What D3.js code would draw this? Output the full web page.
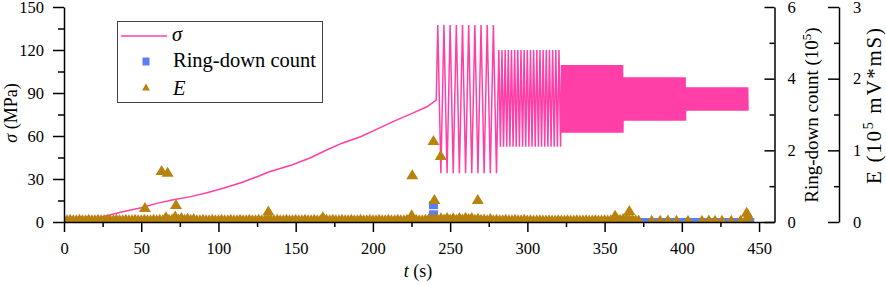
<!DOCTYPE html>
<html>
<head>
<meta charset="utf-8">
<script src="https://cdn.jsdelivr.net/npm/d3@7"></script>
<style>
body{margin:0;background:#fff;}
svg{display:block;font-family:"Liberation Serif","Times New Roman",serif;}
</style>
</head>
<body>
<script>
// stress ramp before cyclic loading (t in s, sigma in MPa)
var sigmaT=[0,10,20,25,38,50,60,70,82,92,103,115,125,133,148,160,170,180,192,203,213,225,235,241];
var sigmaV=[0,1,2.5,3.7,7.2,10,13,15.3,17.7,20.3,23.5,27.6,31.6,35,40,45,50.2,55,59.5,65,70,75.6,80.4,85];

// cyclic loading stages
var stageStart=[241,281,322,362,402.5];
var stageEnd=[281,322,362,402.5,443];
var stageMax=[137.5,120,109.5,101,94];
var stageMin=[34,52.5,62.3,70.7,77.7];
var stageCycles=[10,20,80,80,80];

// E (10^5 mV*mS), background samples every 2 s from 0 to 372 s
var eBase=[
.04,.04,.045,.04,.04,.045,.04,.04,.045,.04,
.04,.045,.04,.04,.045,.04,.04,.045,.04,.04,
.045,.04,.04,.045,.04,.04,.045,.04,.04,.045,
.04,.045,.04,.08,.045,.05,.09,.05,.07,.045,
.06,.045,.055,.04,.04,.045,.04,.04,.045,.04,
.04,.045,.04,.04,.045,.04,.04,.045,.04,.04,
.045,.04,.04,.045,.04,.04,.055,.045,.04,.045,
.04,.04,.045,.04,.04,.045,.04,.04,.045,.04,
.04,.045,.04,.04,.06,.045,.04,.045,.04,.04,
.045,.04,.04,.045,.04,.04,.045,.04,.04,.045,
.04,.04,.045,.04,.04,.045,.04,.04,.045,.04,
.04,.045,.04,.04,.045,.04,.04,.045,.05,.045,
.06,.045,.065,.05,.07,.05,.065,.045,.07,.05,
.075,.055,.07,.045,.06,.045,.05,.04,.055,.04,
.045,.04,.04,.045,.04,.04,.045,.04,.04,.045,
.035,.04,.035,.035,.04,.035,.035,.04,.035,.035,
.04,.035,.035,.04,.035,.035,.04,.035,.035,.04,
.035,.035,.04,.035,.035,.04,.035,.04,.05,.06,
.045,.055,.06,.05,.045,.04,.035];
// sparse E points at the end of the test
var eLateT=[380.5,386,391,396.5,404,413,417.5,421.5,426,432,438,442];
var eLateV=[.03,.03,.035,.03,.03,.03,.035,.03,.03,.03,.03,.035];
// larger E events
var eEventT=[52.4,63.2,67.1,72.5,132.3,167.6,225.1,225.5,239.2,239.8,243.9,267.9,356.8,366,442,443];
var eEventV=[.21,.725,.70,.25,.16,.08,.107,.665,1.145,.32,.935,.32,.10,.167,.144,.1];

// ring-down count (10^5), background samples every 4 s from 0 to 444 s
var ringBase=[
0,0,0,0,0,0,0,0,0,0,0,0,0,0,0,0,0,0,0,0,
0,0,0,0,0,0,0,0,0,0,0,0,0,0,0,0,0,0,0,0,
0,0,0,0,0,0,0,0,0,0,0,0,0,0,0,0,0,0,0,0,
0,0,0,0,0,0,0,0,0,0,0,0,0,0,0,0,0,0,0,0,
0,0,0,0,0,0,0,0,0,0,0,0,0,0,0,0,0,0,0,0,
0,0,0,0,0,0,0,0,0,0,0,0];
var ringEventT=[239.2,239.2];
var ringEventV=[.47,.215];

var xTicks=[0,50,100,150,200,250,300,350,400,450];
var sigmaTicks=[0,30,60,90,120,150];
var ringTicks=[0,2,4,6];
var eTicks=[0,1,2,3];

var pink='#ff3fa7', blue='#5b7ff3', brown='#b8820e';
var font='"Liberation Serif","Times New Roman",serif';

var width=886, height=284;
var svg=d3.select('body').append('svg')
  .attr('width',width).attr('height',height);

var x=d3.scaleLinear().domain([0,460]).range([64,774.5]);
var yS=d3.scaleLinear().domain([0,150]).range([222,7]);
var yR=d3.scaleLinear().domain([0,6]).range([222,7]);
var yE=d3.scaleLinear().domain([0,3]).range([222,7]);

svg.append('clipPath').attr('id','plot')
  .append('rect').attr('x',64).attr('y',7).attr('width',710.5).attr('height',215);

// sigma: ramp followed by the cyclic stages
var sigmaPts=sigmaT.map(function(t,i){return [t,sigmaV[i]];});
stageStart.forEach(function(t0,s){
  var p=(stageEnd[s]-t0)/stageCycles[s];
  for(var k=0;k<stageCycles[s];k++){
    sigmaPts.push([t0+(k+0.25)*p,stageMax[s]]);
    sigmaPts.push([t0+(k+0.75)*p,stageMin[s]]);
  }
});
var line=d3.line().x(function(d){return x(d[0]);}).y(function(d){return yS(d[1]);});
svg.append('path').datum(sigmaPts)
  .attr('clip-path','url(#plot)')
  .attr('d',line).attr('fill','none')
  .attr('stroke',pink).attr('stroke-width',1.5);

// ring-down count squares
var ringPts=ringBase.map(function(v,i){return [i*4,v];});
ringEventT.forEach(function(t,i){ringPts.push([t,ringEventV[i]]);});
svg.append('g').attr('clip-path','url(#plot)')
  .selectAll('rect').data(ringPts).enter().append('rect')
  .attr('x',function(d){return x(d[0])-4.5;})
  .attr('y',function(d){return yR(d[1])-4;})
  .attr('width',9).attr('height',8)
  .attr('fill',blue);

// E triangles
function tri(w,h){
  return 'M0,'+(-h/2)+'L'+(w/2)+','+(h/2)+'L'+(-w/2)+','+(h/2)+'Z';
}
var ePts=eBase.map(function(v,i){return [i*2,v];});
eLateT.forEach(function(t,i){ePts.push([t,eLateV[i]]);});
eEventT.forEach(function(t,i){ePts.push([t,eEventV[i]]);});
svg.append('g').attr('clip-path','url(#plot)')
  .selectAll('path').data(ePts).enter().append('path')
  .attr('d',tri(12,10))
  .attr('transform',function(d){return 'translate('+x(d[0])+','+yE(d[1])+')';})
  .attr('fill',brown);

// axes
function styleAxis(g){
  g.select('.domain').attr('stroke','#000').attr('stroke-width',1.5);
  g.selectAll('.tick line').attr('stroke','#000').attr('stroke-width',1.5);
  g.selectAll('.tick text').attr('font-family',font).attr('font-size',16.5).attr('fill','#000');
}
function minor(axis,g){
  g.call(axis.tickFormat('').tickSizeOuter(0));
  g.select('.domain').remove();
  g.selectAll('.tick line').attr('stroke','#000').attr('stroke-width',1.5);
}
var fmt=d3.format('d');

var gx=svg.append('g').attr('transform','translate(0,222)')
  .call(d3.axisBottom(x).tickValues(xTicks).tickFormat(fmt).tickSize(10).tickSizeOuter(0).tickPadding(10));
styleAxis(gx);
minor(d3.axisBottom(x).tickValues(d3.range(25,450,50)).tickSize(5),
  svg.append('g').attr('transform','translate(0,222)'));

var gl=svg.append('g').attr('transform','translate(64,0)')
  .call(d3.axisLeft(yS).tickValues(sigmaTicks).tickFormat(fmt).tickSize(11).tickSizeOuter(0).tickPadding(9));
styleAxis(gl);
minor(d3.axisLeft(yS).tickValues([15,45,75,105,135]).tickSize(6),
  svg.append('g').attr('transform','translate(64,0)'));

var gr=svg.append('g').attr('transform','translate(774.5,0)')
  .call(d3.axisRight(yR).tickValues(ringTicks).tickFormat(fmt).tickSize(-10).tickSizeOuter(0).tickPadding(13));
styleAxis(gr);
minor(d3.axisRight(yR).tickValues([1,3,5]).tickSize(-5),
  svg.append('g').attr('transform','translate(774.5,0)'));

var ge=svg.append('g').attr('transform','translate(839,0)')
  .call(d3.axisRight(yE).tickValues(eTicks).tickFormat(fmt).tickSize(-11).tickSizeOuter(0).tickPadding(14));
styleAxis(ge);
minor(d3.axisRight(yE).tickValues([0.5,1.5,2.5]).tickSize(-5),
  svg.append('g').attr('transform','translate(839,0)'));

// axis titles
var xt=svg.append('text').attr('x',418).attr('y',277)
  .attr('text-anchor','middle').attr('font-size',18).attr('font-family',font);
xt.append('tspan').attr('font-style','italic').text('t');
xt.append('tspan').text(' (s)');

var lt=svg.append('text').attr('transform','translate(17,113) rotate(-90)')
  .attr('text-anchor','middle').attr('font-size',18).attr('font-family',font);
lt.append('tspan').attr('font-style','italic').text('σ');
lt.append('tspan').text(' (MPa)');

var rt=svg.append('text').attr('transform','translate(818,115) rotate(-90)')
  .attr('text-anchor','middle').attr('font-size',19).attr('font-family',font);
rt.append('tspan').text('Ring-down count (10');
rt.append('tspan').attr('dy',-7).attr('font-size',13).text('5');
rt.append('tspan').attr('dy',7).text(')');

var et=svg.append('text').attr('transform','translate(881,106) rotate(-90)')
  .attr('text-anchor','middle').attr('font-size',21).attr('font-family',font)
  .attr('textLength',156).attr('lengthAdjust','spacing');
et.append('tspan').text('E (10');
et.append('tspan').attr('dy',-8).attr('font-size',14).text('5');
et.append('tspan').attr('dy',8).text(' mV*mS)');

// legend
var lg=svg.append('g');
lg.append('rect').attr('x',117.5).attr('y',21.5).attr('width',205).attr('height',81)
  .attr('fill','#fff').attr('stroke','#444').attr('stroke-width',1);
lg.append('line').attr('x1',121).attr('x2',167).attr('y1',36).attr('y2',36)
  .attr('stroke',pink).attr('stroke-width',1.5);
lg.append('text').attr('x',172).attr('y',41).attr('font-size',20.5).attr('font-style','italic')
  .attr('font-family',font).text('σ');
lg.append('rect').attr('x',142.5).attr('y',57.5).attr('width',7).attr('height',8).attr('fill',blue);
lg.append('text').attr('x',173).attr('y',67).attr('font-size',20.5)
  .attr('font-family',font).text('Ring-down count');
lg.append('path').attr('d',tri(8,7)).attr('transform','translate(146,87)').attr('fill',brown);
lg.append('text').attr('x',173).attr('y',95).attr('font-size',20.5).attr('font-style','italic')
  .attr('font-family',font).text('E');
</script>
</body>
</html>
